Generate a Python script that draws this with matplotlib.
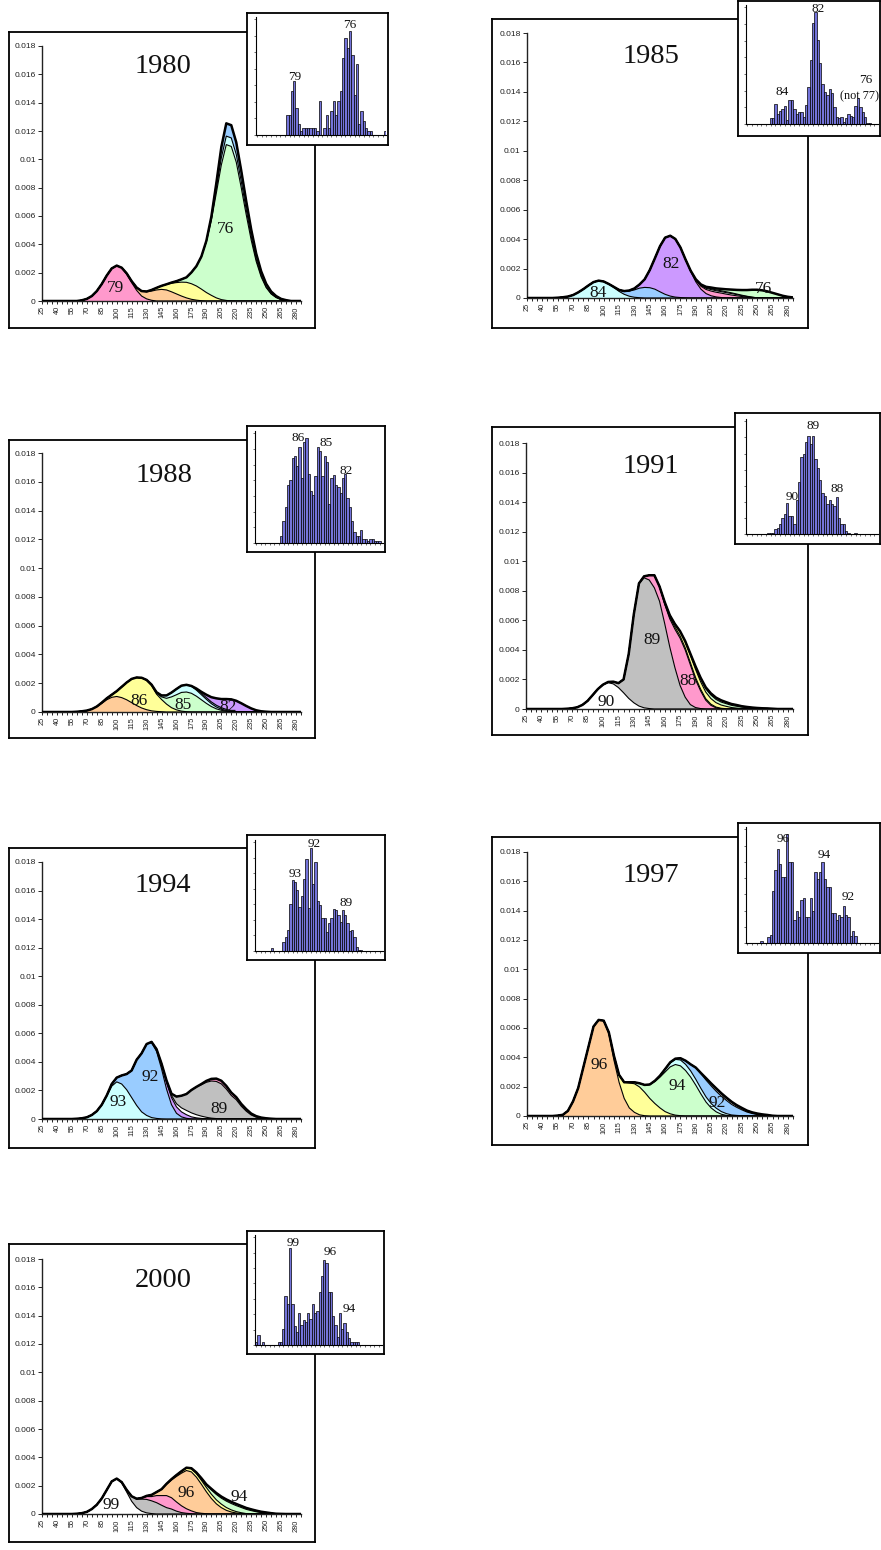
import numpy as np
import matplotlib
matplotlib.use('Agg')
import matplotlib.pyplot as plt
from matplotlib.ticker import FixedLocator

W, H = 881, 1550

# ---------------- data (density layers in units of 0.001) ----------------
XS = list(range(25, 290, 5))          # categories 25 ... 285
XLAB = list(range(25, 281, 15))
YT = [0, 0.002, 0.004, 0.006, 0.008, 0.01, 0.012, 0.014, 0.016, 0.018]
YTL = ['0', '0.002', '0.004', '0.006', '0.008', '0.01', '0.012', '0.014', '0.016', '0.018']

d80_79 = [0]*8 + [.05, .15, .35, .7, 1.2, 1.8, 2.3, 2.5, 2.35, 1.9, 1.3, .75, .35, .15, .05]
d80_or = [0]*17 + [.05, .1, .2, .35, .5, .65, .78, .82, .78, .65, .5, .35, .22, .12, .06, .02]
d80_ye = [0]*21 + [.02, .08, .15, .25, .4, .6, .8, .98, 1.1, 1.1, 1.0, .82, .6, .4, .22, .1, .04, .01]
d80_76 = [0]*26 + [.05, .1, .2, .35, .8, 1.4, 2.3, 3.6, 5.3, 7.4, 9.5, 11.0, 10.9, 9.8, 8.0, 6.1, 4.3, 2.8, 1.7, .95, .5, .25, .1, .04]
d80_cy = [0]*34 + [.1, .3, .5, .6, .6, .55, .45, .35, .25, .15, .1, .05, .02]
d80_bl = [0]*33 + [.05, .15, .4, .75, .9, .9, .85, .75, .6, .5, .4, .3, .22, .15, .1, .05, .02]

d85_84 = [0]*6 + [.02, .05, .1, .2, .38, .6, .85, 1.08, 1.18, 1.12, .95, .7, .45, .25, .12, .05, .02]
d85_bl = [0]*17 + [.05, .1, .2, .35, .5, .65, .72, .7, .6, .42, .25, .13, .06, .03, .01]
d85_82 = [0]*19 + [.02, .04, .1, .25, .55, 1.2, 2.1, 3.1, 3.85, 4.1, 3.95, 3.4, 2.6, 1.8, 1.1, .6, .3, .15, .07, .03]
d85_pk = [0]*32 + [.05, .12, .2, .28, .32, .32, .3, .26, .2, .15, .1, .06, .03, .01]
d85_w1 = [0]*33 + [.03, .06, .08, .1, .1, .1, .1, .1, .08, .06, .04, .02]
d85_w2 = [0]*33 + [.02, .04, .05, .06, .06, .06, .06, .05, .04, .03, .02, .01]
d85_76 = [0]*34 + [.02, .05, .08, .1, .13, .17, .22, .28, .35, .42, .5, .55, .52, .45, .35, .25, .15, .08, .04]

d88_or = [0]*7 + [.02, .05, .1, .2, .38, .6, .85, 1.02, 1.08, 1.0, .85, .65, .45, .28, .16, .08, .04, .02]
d88_86 = [0]*12 + [.05, .1, .18, .37, .75, 1.2, 1.65, 1.95, 2.1, 2.04, 1.75, 1.2, .85, .55, .3, .15, .06, .02]
d88_85 = [0]*21 + [.03, .07, .08, .18, .4, .75, 1.05, 1.3, 1.37, 1.3, 1.1, .85, .6, .38, .22, .12, .06, .03]
d88_cy = [0]*23 + [.05, .1, .2, .3, .4, .47, .5, .48, .42, .35, .28, .2, .13, .08, .04, .02]
d88_bl = [0]*30 + [.03, .06, .1, .12, .12, .12, .1, .08, .05, .03, .01]
d88_82 = [0]*31 + [.05, .1, .2, .33, .48, .6, .72, .78, .75, .6, .42, .25, .12, .05, .02]

d91_90 = [0]*8 + [.02, .05, .12, .28, .55, .95, 1.35, 1.65, 1.78, 1.7, 1.45, 1.1, .72, .42, .2, .08, .03]
d91_89 = [0]*16 + [.05, .15, .3, .9, 3.0, 6.0, 8.3, 8.8, 8.7, 8.2, 7.3, 5.8, 4.2, 2.8, 1.6, .8, .3, .1, .03]
d91_88 = [0]*23 + [.1, .32, .85, 1.0, 1.3, 1.9, 2.6, 3.2, 3.2, 2.7, 1.9, 1.2, .6, .25, .08, .02]
d91_y1 = [0]*27 + [.05, .1, .15, .15, .15, .15, .15, .12, .1, .08, .05, .03, .02]
d91_y2 = [0]*27 + [.1, .15, .2, .3, .4, .5, .55, .5, .45, .38, .3, .22, .16, .1, .06, .03, .01]
d91_gr = [0]*30 + [.02, .05, .1, .15, .2, .22, .24, .22, .2, .18, .15, .13, .1, .08, .06, .04, .03, .02, .01]
d91_w = [0]*33 + [.05, .07, .1, .11, .12, .12, .1, .09, .08, .06, .05, .04, .03, .02, .02, .01]

d94_93 = [0]*7 + [.02, .05, .12, .28, .55, 1.0, 1.6, 2.3, 2.6, 2.45, 2.05, 1.5, .95, .5, .25, .1, .04, .01]
d94_92 = [0]*13 + [.05, .15, .3, .6, 1.1, 1.9, 3.2, 4.1, 5.0, 5.25, 4.7, 3.5, 2.1, 1.0, .4, .15, .05]
d94_pu = [0]*22 + [.05, .15, .3, .45, .5, .45, .35, .25, .15, .08, .04, .02]
d94_wh = [0]*24 + [.05, .1, .15, .22, .28, .3, .28, .22, .16, .1, .06, .03, .01]
d94_89 = [0]*24 + [.02, .05, .12, .5, .85, 1.15, 1.6, 1.95, 2.2, 2.45, 2.6, 2.6, 2.45, 2.1, 1.65, 1.35, .9, .55, .28, .13, .05, .02]
d94_pk = [0]*32 + [.05, .1, .15, .2, .22, .22, .2, .18, .16, .14, .1, .07, .05, .03, .02]

d97_96 = [0]*6 + [.03, .08, .35, 1.0, 1.9, 3.3, 4.7, 6.1, 6.55, 6.5, 5.6, 3.8, 2.3, 1.2, .55, .25, .08, .02]
d97_ye = [0]*16 + [.1, .3, .5, 1.1, 1.7, 1.95, 1.9, 1.6, 1.2, .85, .55, .3, .15, .06, .02]
d97_94 = [0]*20 + [.05, .1, .25, .5, .95, 1.5, 2.1, 2.7, 3.2, 3.45, 3.4, 3.1, 2.65, 2.1, 1.5, .95, .55, .28, .12, .04]
d97_cy = [0]*25 + [.05, .1, .2, .28, .35, .4, .42, .42, .4, .38, .35, .3, .25, .18, .12, .07, .04, .02]
d97_92 = [0]*28 + [.03, .05, .12, .25, .45, .8, 1.0, 1.15, 1.2, 1.15, 1.05, .9, .72, .55, .4, .27, .17, .1, .06, .03]
d97_w1 = [0]*34 + [.05, .1, .12, .14, .14, .13, .12, .1, .08, .06, .05, .04, .03, .02, .01]
d97_w2 = [0]*35 + [.03, .05, .06, .06, .06, .06, .05, .05, .04, .03, .03, .02, .02, .01]

d00_99 = [0]*7 + [.02, .06, .15, .35, .65, 1.1, 1.7, 2.3, 2.5, 2.2, 1.55, .9, .45, .2, .08, .03]
d00_gy = [0]*16 + [.05, .15, .35, .6, .85, .95, .9, .8, .62, .45, .35, .2, .1, .05, .02]
d00_pk = [0]*19 + [.03, .08, .2, .3, .5, .68, .85, .8, .65, .48, .32, .2, .1, .05, .02]
d00_96 = [0]*21 + [.05, .12, .25, .45, .8, 1.25, 1.8, 2.3, 2.7, 2.75, 2.5, 2.05, 1.55, 1.1, .72, .45, .26, .14, .07, .03]
d00_ye = [0]*25 + [.03, .06, .1, .14, .18, .22, .25, .28, .3, .3, .28, .25, .2, .15, .1, .06, .03, .01]
d00_94 = [0]*29 + [.02, .04, .08, .12, .17, .3, .38, .42, .45, .45, .42, .37, .3, .23, .16, .1, .06, .03]
d00_w = [0]*32 + [.03, .05, .08, .1, .11, .12, .12, .12, .11, .1, .09, .08, .06, .05, .03, .02, .01]

# inset histograms (bar heights, % of inset axis height), 56 bins
h80 = [0]*13 + [17, 17, 37, 46, 23, 9, 3, 6, 6, 6, 6, 6, 6, 3, 29, 0, 6, 17, 6, 20, 29, 17, 29, 37, 65, 82, 74, 88, 68, 34, 60, 9, 20, 12, 6, 3, 3, 0, 0, 0, 0, 0, 3]
h85 = [0]*10 + [5, 5, 17, 8, 11, 13, 15, 3, 20, 20, 13, 8, 10, 10, 6, 16, 31, 54, 85, 94, 71, 51, 34, 27, 24, 29, 26, 14, 6, 5, 6, 2, 5, 8, 7, 6, 15, 22, 14, 10, 6, 1, 1]
h88 = [0]*11 + [6, 20, 32, 52, 56, 76, 78, 69, 86, 58, 90, 94, 62, 46, 43, 60, 86, 82, 60, 78, 72, 35, 58, 61, 52, 50, 45, 58, 62, 40, 32, 20, 10, 6, 6, 12, 4, 4, 2, 4, 4, 2, 2, 2]
h91 = [0]*9 + [1, 1, 1, 4, 5, 9, 14, 17, 27, 16, 16, 9, 30, 45, 67, 70, 80, 85, 78, 85, 65, 57, 47, 36, 33, 26, 30, 26, 24, 32, 14, 9, 9, 3, 1, 0, 0, 1]
h94 = [0, 0, 0, 0, 0, 0, 0, 3, 0, 0, 0, 0] + [8, 13, 19, 42, 64, 62, 55, 40, 50, 65, 83, 39, 93, 60, 80, 45, 41, 30, 30, 17, 25, 30, 38, 37, 32, 26, 37, 32, 25, 18, 19, 13, 4, 1, 1]
h97 = [0, 0, 0, 0, 0, 0, 2, 0, 0, 5, 7] + [45, 63, 81, 68, 57, 57, 94, 70, 70, 20, 28, 22, 37, 39, 22, 22, 39, 28, 61, 55, 61, 70, 55, 48, 48, 26, 26, 20, 24, 22, 32, 24, 22, 6, 10, 6]
h00 = [3, 9, 0, 3, 0, 0, 0, 0, 0, 0, 3, 3, 15, 45, 37, 88, 37, 17, 12, 29, 18, 23, 21, 29, 24, 37, 29, 31, 48, 63, 77, 75, 48, 48, 26, 18, 7, 29, 15, 20, 12, 6, 3, 3, 3, 3]
NB = 56

# ---------------- styling ----------------
PINK, ORANGE, YELLOW = '#FF99CC', '#FFCC99', '#FFFF99'
GREEN, CYAN, BLUE = '#CCFFCC', '#CCFFFF', '#99CCFF'
PURPLE, GRAY, WHITE = '#CC99FF', '#C0C0C0', '#FFFFFF'
BAR = '#7474DA'
SANS = 'Liberation Sans'
SERIF = 'Liberation Serif'

panels = [
    dict(year='1980', frame=(9, 32, 315, 328), ax=(42, 46, 301, 301), title=(163, 73),
         layers=[(d80_79, PINK), (d80_or, ORANGE), (d80_ye, YELLOW), (d80_76, GREEN), (d80_cy, CYAN), (d80_bl, BLUE)],
         labels=[('79', 115, 292), ('76', 226, 233)],
         iframe=(247, 13, 388, 145), iax=(256, 17, 386, 135), hist=h80,
         hlabels=[('79', 295, 80), ('76', 350, 28)]),
    dict(year='1985', frame=(492, 19, 808, 328), ax=(527, 33, 793, 298), title=(651, 63),
         layers=[(d85_84, CYAN), (d85_bl, BLUE), (d85_82, PURPLE), (d85_pk, PINK), (d85_w1, WHITE), (d85_w2, CYAN), (d85_76, GREEN)],
         labels=[('84', 598, 297), ('82', 671, 268), ('76', 763, 293)],
         iframe=(738, 1, 880, 136), iax=(746, 5, 878, 124), hist=h85,
         hlabels=[('82', 818, 12), ('84', 782, 95), ('76', 866, 83), ('(not 77)', 859, 99)]),
    dict(year='1988', frame=(9, 440, 315, 738), ax=(42, 453, 301, 712), title=(164, 482),
         layers=[(d88_or, ORANGE), (d88_86, YELLOW), (d88_85, GREEN), (d88_cy, CYAN), (d88_bl, BLUE), (d88_82, PURPLE)],
         labels=[('86', 139, 705), ('85', 183, 709), ('82', 228, 711)],
         iframe=(247, 426, 385, 552), iax=(255, 431, 383, 543), hist=h88,
         hlabels=[('86', 298, 441), ('85', 326, 446), ('82', 346, 474)]),
    dict(year='1991', frame=(492, 427, 808, 735), ax=(526, 443, 793, 709), title=(651, 473),
         layers=[(d91_90, WHITE), (d91_89, GRAY), (d91_88, PINK), (d91_y1, YELLOW), (d91_y2, YELLOW), (d91_gr, GREEN), (d91_w, WHITE)],
         labels=[('89', 652, 644), ('88', 688, 685), ('90', 606, 706)],
         iframe=(735, 413, 880, 544), iax=(746, 419, 878, 534), hist=h91,
         hlabels=[('89', 813, 429), ('90', 792, 500), ('88', 837, 492)]),
    dict(year='1994', frame=(9, 848, 315, 1148), ax=(42, 862, 301, 1119), title=(163, 892),
         layers=[(d94_93, CYAN), (d94_92, BLUE), (d94_pu, PURPLE), (d94_wh, WHITE), (d94_89, GRAY), (d94_pk, PINK)],
         labels=[('93', 118, 1106), ('92', 150, 1081), ('89', 219, 1113)],
         iframe=(247, 835, 385, 960), iax=(255, 840, 383, 951), hist=h94,
         hlabels=[('92', 314, 847), ('93', 295, 877), ('89', 346, 906)]),
    dict(year='1997', frame=(492, 837, 808, 1145), ax=(527, 852, 793, 1116), title=(651, 882),
         layers=[(d97_96, ORANGE), (d97_ye, YELLOW), (d97_94, GREEN), (d97_cy, CYAN), (d97_92, BLUE), (d97_w1, WHITE), (d97_w2, WHITE)],
         labels=[('96', 599, 1069), ('94', 677, 1090), ('92', 717, 1107)],
         iframe=(738, 823, 880, 953), iax=(746, 827, 878, 943), hist=h97,
         hlabels=[('96', 783, 842), ('94', 824, 858), ('92', 848, 900)]),
    dict(year='2000', frame=(9, 1244, 315, 1542), ax=(42, 1259, 301, 1514), title=(163, 1287),
         layers=[(d00_99, WHITE), (d00_gy, GRAY), (d00_pk, PINK), (d00_96, ORANGE), (d00_ye, YELLOW), (d00_94, GREEN), (d00_w, WHITE)],
         labels=[('99', 111, 1509), ('96', 186, 1497), ('94', 239, 1501)],
         iframe=(247, 1231, 384, 1354), iax=(255, 1235, 382, 1345), hist=h00,
         hlabels=[('99', 293, 1246), ('96', 330, 1255), ('94', 349, 1312)]),
]

fig = plt.figure(figsize=(W / 100, H / 100), dpi=100)
fig.patch.set_facecolor('white')


def add_px(box, z, **kw):
    l, t, r, b = box
    return fig.add_axes([l / W, 1 - b / H, (r - l) / W, (b - t) / H], zorder=z, **kw)


def framebox(box, z):
    a = add_px(box, z)
    a.set_facecolor('white')
    a.set_xticks([])
    a.set_yticks([])
    for s in a.spines.values():
        s.set_linewidth(1.3)
        s.set_color('black')
    return a


def ftext(s, x, y, size):
    fig.text(x / W, 1 - y / H, s, ha='center', va='baseline', family=SERIF,
             fontsize=size, color='#111111', zorder=20)


def padded(v, n):
    return np.array(list(v) + [0] * (n - len(v)), dtype=float)


for p in panels:
    framebox(p['frame'], 0)
    ax = add_px(p['ax'], 1)
    ax.set_facecolor('none')
    cum = np.zeros(len(XS))
    for vals, col in p['layers']:
        top = cum + padded(vals, len(XS)) * 1e-3
        ax.fill_between(XS, cum, top, facecolor=col, edgecolor='none', zorder=2)
        ax.plot(XS, top, color='black', lw=0.8, zorder=3)
        cum = top
    ax.plot(XS, cum, color='black', lw=1.8, zorder=4, solid_capstyle='butt')
    ax.set_xlim(25, 285)
    ax.set_ylim(0, 0.018)
    for s in ('top', 'right'):
        ax.spines[s].set_visible(False)
    for s in ('left', 'bottom'):
        ax.spines[s].set_linewidth(1.0)
        ax.spines[s].set_color('#222222')
    ax.xaxis.set_major_locator(FixedLocator(XLAB))
    ax.xaxis.set_minor_locator(FixedLocator(XS))
    ax.set_xticklabels([str(v) for v in XLAB], rotation=90, fontsize=5.3,
                       family=SANS, color='#222222')
    ax.set_yticks(YT)
    ax.set_yticklabels(YTL, fontsize=6.1, family=SANS, color='#222222')
    ax.tick_params(axis='x', which='both', length=2.5, width=0.6, pad=1.2, direction='out')
    ax.tick_params(axis='y', length=3, width=0.6, pad=1.5, direction='out')

    ftext(p['year'], p['title'][0], p['title'][1], 20.5)
    for s, x, y in p['labels']:
        ftext(s, x, y, 12.5)

    framebox(p['iframe'], 3)
    ia = add_px(p['iax'], 4)
    ia.set_facecolor('none')
    hv = padded(p['hist'], NB)
    ia.bar(np.arange(NB), hv, width=1.0, color=BAR, edgecolor='black', linewidth=0.5)
    ia.set_xlim(-0.5, NB - 0.5)
    ia.set_ylim(0, 100)
    for s in ('top', 'right'):
        ia.spines[s].set_visible(False)
    for s in ('left', 'bottom'):
        ia.spines[s].set_linewidth(0.8)
    ia.set_yticks(np.linspace(0, 98, 8))
    ia.set_yticklabels([''] * 8)
    ia.set_xticks(np.arange(0, NB, 2))
    ia.set_xticklabels([''] * len(np.arange(0, NB, 2)))
    ia.tick_params(axis='y', length=1.5, width=0.4, pad=0.5)
    ia.tick_params(axis='x', length=1.5, width=0.4, pad=0.5)
    for s, x, y in p['hlabels']:
        ftext(s, x, y, 8.8 if s.startswith('(') else 9.5)

fig.savefig('out.png', dpi=100, facecolor='white')
